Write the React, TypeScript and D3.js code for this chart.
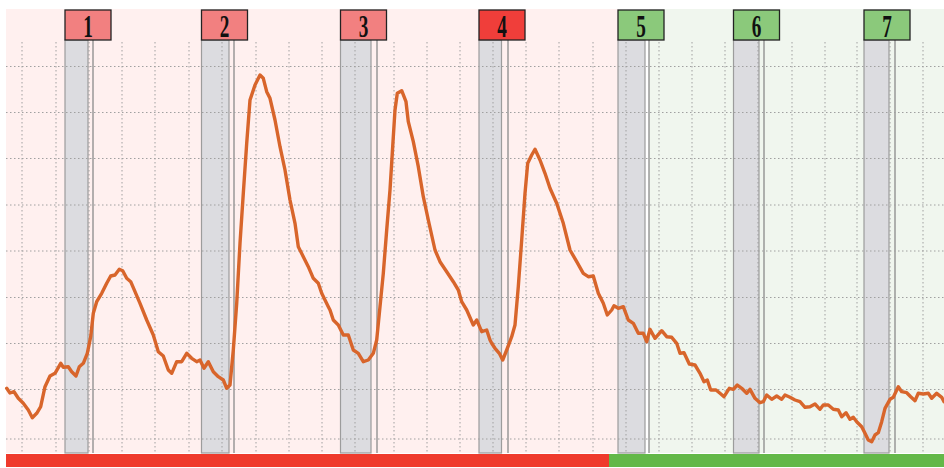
import React from 'react';
import * as d3 from 'd3';

// sample time (index) and signal amplitude
const times = [0.7, 4, 8, 12.3, 17.3, 22.3, 26.3, 30.7, 34.7, 39, 44, 49, 54.7, 57.3, 62.3, 65.7, 70, 73.3, 77.3, 81.3, 84.7, 87.3, 90.7, 95.7, 100.7, 104.7, 109, 113.3, 116.7, 120.7, 124.7, 129, 134, 140.7, 147.3, 152.3, 157.3, 162.3,
  165.7, 170.7, 175.7, 180.7, 185.7, 190.7, 194, 198, 202.3, 207.3, 212.3, 217.3, 220.7, 224, 227.3, 230.7, 234, 237.3, 240.7, 244, 249, 254, 257.3, 260.7, 264, 269, 274, 279, 284, 289, 292.3, 297.3, 302.3, 307.3, 312.3, 315.7, 322.3,
  324, 327.3, 332.3, 337.3, 342.3, 347.3, 352.3, 357.3, 362.3, 367.3, 370.7, 374, 377.3, 380.7, 384, 386.7, 389, 391.3, 395.7, 400, 402.3, 407.3, 412.3, 417.3, 422.3, 429, 434, 440.7, 447.3, 452.3, 455.7, 460.7, 467.3, 470.7, 475.7, 480.7, 484,
  485.7, 489, 493.3, 496.7, 500.7, 505.7, 509, 512.3, 515.7, 519, 521.7, 525.7, 529, 534, 539, 544, 550.7, 557.3, 564, 570.7, 577.3, 582.3, 587.3, 592.3, 597.3, 601.3, 605.7, 608, 612.3, 617.3, 622.3, 627.3, 632.3, 637.3, 640.7, 644,
  649, 655.7, 660.7, 665.7, 670.7, 674, 678, 683.3, 689, 694, 698, 701.3, 704.7, 710, 714, 718, 723.3, 727.3, 731.3, 735.7, 740.7, 744, 749, 754, 757.3, 760.7, 765.7, 770.7, 775.7, 779, 784,
  789, 794, 799, 804, 809, 814, 817.3, 822.3, 827.3, 832.3, 835.7, 840, 844, 847.3, 850.7, 855.7, 859, 862.3, 865.7, 869, 872.3, 875.7, 879, 884, 887.3, 892.3, 895.7, 900.7, 904.7, 909, 912.3, 917.3, 922.3, 925.7, 930.7, 935.7, 938];
const values = [64.7, 60, 61.3, 54.7, 49.7, 43, 35.3, 39.7, 46.3, 66.3, 77, 79.7, 89.7, 85.7, 86.3, 81.3, 77, 86.3, 89.7, 99.7, 116.3, 139.7, 151.3, 159.7, 169.7, 177, 178, 183.7, 182.3, 174.7, 171.3, 161.3, 149.7, 133, 118, 101.3, 97, 83,
  79.7, 91.3, 91.3, 99.7, 94.7, 91.3, 93, 84.7, 91.3, 81.3, 76.3, 73, 64.7, 68, 103, 149.7, 209.7, 259.7, 309.7, 353, 368, 378, 374.7, 361.3, 354.7, 333, 306.3, 283, 253, 229.7, 206.3, 196.3, 186.3, 174.7, 169.7, 159.7, 146.3,
  143, 133, 128, 118, 118, 103, 99.7, 91.3, 93, 99.7, 113, 146.3, 179.7, 223, 263, 306.3, 343, 359.7, 362.3, 351.3, 331.3, 311.3, 286.3, 256.3, 233, 203, 191.3, 181.3, 171.3, 163, 151.3, 143, 128, 133, 121.3, 123, 113,
  109.7, 104.7, 99.7, 93, 103, 116.3, 128, 166.3, 213, 259.7, 289.7, 298, 303.7, 293, 279.7, 264.7, 249.7, 229.7, 203, 191.3, 179.7, 176.3, 177, 159.7, 149.7, 138, 143, 147.3, 144.7, 146.3, 133, 129.7, 119.7, 119.7, 111.3, 123.7,
  114.7, 122.3, 116.3, 115.7, 109.7, 99.7, 100.3, 89, 88, 79.7, 71.3, 73, 63, 63, 59.7, 56.3, 64.7, 63.7, 68, 64.7, 59.7, 63.7, 54.7, 50.3, 51.3, 58, 53.7, 57, 53.7, 58, 55.7,
  53, 51.3, 45.7, 46.3, 49, 43.7, 48, 48, 43.7, 43, 36.3, 40.3, 33.7, 35.7, 31.3, 26.3, 19.7, 13, 11.3, 18, 20.3, 31.3, 44.7, 53.7, 55.7, 66.3, 61.3, 60.3, 56.3, 52.3, 59.7, 59, 59.7, 54.7, 59.7, 55.7, 51.3];

// grid tick positions
const gridTimes = [16, 50, 83, 116, 149, 183, 216, 250, 283, 316, 349, 388, 421, 454, 487, 520, 553, 587, 620, 653, 686, 719, 752, 786, 819, 851, 884, 917];
const gridValues = [14, 63.5, 109.5, 155.5, 202, 248, 294.5, 340.5, 386.5];

// events
const eventLabels = ['1', '2', '3', '4', '5', '6', '7'];
const eventStart = [59, 195.5, 334.5, 473, 612, 727.5, 858];
const eventEnd = [82, 223, 365, 495.5, 639, 753, 883];
const eventMarker = [87, 228, 371, 502, 643, 758, 889];
const eventKind = ['warn', 'warn', 'warn', 'alarm', 'ok', 'ok', 'ok'];

// phases
const phaseKind = ['alarm', 'ok'];
const phaseStart = [0, 603];
const phaseEnd = [603, 938];
const bgStart = [0, 643];
const bgEnd = [612, 938];

const W = 944;
const H = 468;

export default function App() {
  const x = d3.scaleLinear().domain([0, 938]).range([6, 944]);
  const y = d3.scaleLinear().domain([0, 444]).range([453, 9]);
  const line = d3.line<number>().x((_, i) => x(times[i])).y((d) => y(d));
  const labelFill: Record<string, string> = { warn: '#f28080', alarm: '#f03e3a', ok: '#8bc97b' };
  const bgFill: Record<string, string> = { alarm: '#fff0ef', ok: '#f0f6ee' };
  const barFill: Record<string, string> = { alarm: '#ef3a2c', ok: '#63b848' };
  const gridTop = 411;
  const labelTop = y(443);
  const labelBottom = y(413);
  return (
    <svg width={W} height={H} style={{ position: 'absolute', left: 0, top: 0, background: '#fff' }}>
      {phaseKind.map((k, i) => (
        <rect key={'bg' + i} x={x(bgStart[i])} y={y(444)} width={x(bgEnd[i]) - x(bgStart[i])} height={y(0) - y(444)} fill={bgFill[k]} />
      ))}
      {eventLabels.map((l, i) => (
        <g key={'ev' + i}>
          <rect x={x(eventStart[i])} y={labelBottom} width={x(eventEnd[i]) - x(eventStart[i])} height={y(0) - labelBottom} fill="#dcdce0" stroke="#9c9c9c" strokeWidth={1.2} />
          <line x1={x(eventMarker[i])} x2={x(eventMarker[i])} y1={labelBottom} y2={y(0)} stroke="#8a8a8a" strokeWidth={1.3} />
        </g>
      ))}
      {gridTimes.map((t, i) => (
        <line key={'gx' + i} x1={x(t)} x2={x(t)} y1={y(gridTop)} y2={y(0)} stroke="#a0a0a0" strokeWidth={1} strokeDasharray="1.5,2.5" />
      ))}
      {gridValues.map((v, i) => (
        <line key={'gy' + i} x1={x(0)} x2={x(938)} y1={y(v)} y2={y(v)} stroke="#a0a0a0" strokeWidth={1} strokeDasharray="1.5,2.5" />
      ))}
      {eventLabels.map((l, i) => {
        const x0 = x(eventStart[i]);
        const cx = x0 + 23;
        return (
          <g key={'lb' + i}>
            <rect x={x0} y={labelTop} width={46} height={labelBottom - labelTop} fill={labelFill[eventKind[i]]} stroke="#222" strokeWidth={1.3} />
            <text
              transform={`translate(${cx},36.5) scale(0.62,1)`}
              textAnchor="middle"
              fontFamily="'Liberation Serif', 'DejaVu Serif', serif"
              fontWeight="bold"
              fontSize={31}
              fill="#111"
            >
              {l}
            </text>
          </g>
        );
      })}
      <path d={line(values) || ''} fill="none" stroke="#d8652b" strokeWidth={3.4} strokeLinejoin="round" strokeLinecap="round" />
      {phaseKind.map((k, i) => (
        <rect key={'bar' + i} x={x(phaseStart[i])} y={454} width={x(phaseEnd[i]) - x(phaseStart[i])} height={13} fill={barFill[k]} />
      ))}
    </svg>
  );
}
